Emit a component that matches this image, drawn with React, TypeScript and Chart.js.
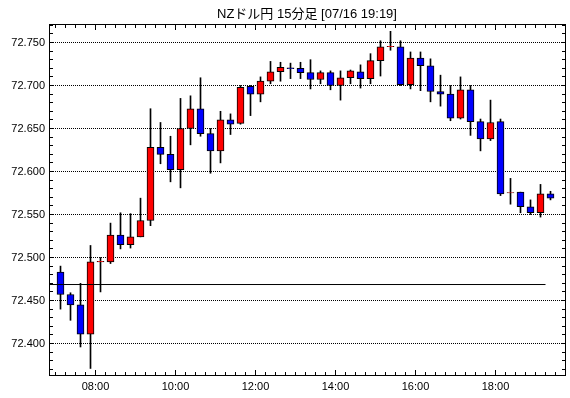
import React, { useEffect, useRef } from 'react';
import { Chart, registerables } from 'chart.js';

Chart.register(...registerables);

const TITLE = 'NZドル円 15分足 [07/16 19:19]';

const candleTimes = [
  '07:00', '07:15', '07:30', '07:45', '08:00', '08:15', '08:30', '08:45',
  '09:00', '09:15', '09:30', '09:45', '10:00', '10:15', '10:30', '10:45',
  '11:00', '11:15', '11:30', '11:45', '12:00', '12:15', '12:30', '12:45',
  '13:00', '13:15', '13:30', '13:45', '14:00', '14:15', '14:30', '14:45',
  '15:00', '15:15', '15:30', '15:45', '16:00', '16:15', '16:30', '16:45',
  '17:00', '17:15', '17:30', '17:45', '18:00', '18:15', '18:30', '18:45',
  '19:00', '19:15',
];

const opens = [
  72.483, 72.457, 72.445, 72.411, 72.495, 72.495, 72.526, 72.515,
  72.524, 72.543, 72.628, 72.620, 72.602, 72.650, 72.673, 72.644,
  72.624, 72.660, 72.656, 72.699, 72.690, 72.705, 72.716, 72.7205,
  72.720, 72.715, 72.707, 72.715, 72.700, 72.709, 72.716, 72.708,
  72.729, 72.745, 72.745, 72.701, 72.732, 72.723, 72.693, 72.690,
  72.662, 72.695, 72.658, 72.638, 72.658, 72.575, 72.576, 72.559,
  72.552, 72.574,
];

const highs = [
  72.490, 72.459, 72.470, 72.514, 72.500, 72.540, 72.552, 72.551,
  72.569, 72.673, 72.657, 72.641, 72.685, 72.688, 72.709, 72.650,
  72.670, 72.667, 72.700, 72.700, 72.710, 72.728, 72.727, 72.726,
  72.727, 72.730, 72.717, 72.717, 72.717, 72.718, 72.724, 72.737,
  72.752, 72.763, 72.752, 72.739, 72.739, 72.731, 72.712, 72.700,
  72.710, 72.700, 72.661, 72.683, 72.661, 72.592, 72.576, 72.567,
  72.585, 72.577,
];

const lows = [
  72.440, 72.427, 72.396, 72.371, 72.460, 72.493, 72.510, 72.511,
  72.524, 72.537, 72.609, 72.588, 72.581, 72.631, 72.641, 72.598,
  72.610, 72.643, 72.655, 72.665, 72.681, 72.702, 72.705, 72.708,
  72.708, 72.696, 72.702, 72.695, 72.683, 72.702, 72.697, 72.702,
  72.711, 72.741, 72.700, 72.696, 72.694, 72.681, 72.676, 72.659,
  72.661, 72.642, 72.624, 72.636, 72.572, 72.562, 72.552, 72.550,
  72.547, 72.567,
];

const closes = [
  72.457, 72.445, 72.411, 72.495, 72.4955, 72.526, 72.515, 72.524,
  72.543, 72.628, 72.620, 72.602, 72.650, 72.673, 72.644, 72.624,
  72.660, 72.655, 72.698, 72.690, 72.705, 72.716, 72.721, 72.7195,
  72.715, 72.707, 72.715, 72.700, 72.709, 72.717, 72.708, 72.729,
  72.745, 72.7455, 72.701, 72.732, 72.723, 72.693, 72.690, 72.662,
  72.695, 72.658, 72.638, 72.657, 72.574, 72.5755, 72.559, 72.552,
  72.574, 72.569,
];

const refLevel = 72.4686;
const refLineEnd = '19:15';

const yTickValues = [72.4, 72.45, 72.5, 72.55, 72.6, 72.65, 72.7, 72.75];
const xTickLabels = ['08:00', '10:00', '12:00', '14:00', '16:00', '18:00'];

const X_MIN = 410.25;
const X_MAX = 1184.25;
const Y_MIN = 72.3634;
const Y_MAX = 72.7715;
const CANDLE_MINUTES = 15;

const toMin = (s: string) => {
  const [h, m] = s.split(':').map(Number);
  return h * 60 + m;
};

const FONT_FAMILY = "'Liberation Sans', 'Noto Sans CJK JP', sans-serif";

export default function App() {
  const canvasRef = useRef<HTMLCanvasElement | null>(null);

  useEffect(() => {
    const canvas = canvasRef.current;
    if (!canvas) return;

    const centers = candleTimes.map((t) => toMin(t) + CANDLE_MINUTES / 2);
    const wickData = centers.map((x, i) => ({ x, y: [lows[i], highs[i]] }));
    const bodyData = centers.map((x, i) => ({ x, y: [opens[i], closes[i]] }));
    const bodyColors = opens.map((o, i) => (closes[i] >= o ? '#ff0000' : '#0000ff'));

    const decor = {
      id: 'decor',
      afterDraw(chart: any) {
        const { ctx, chartArea: a, scales } = chart;
        const xs = scales.x;
        const ys = scales.y;
        ctx.save();
        ctx.strokeStyle = '#000';
        ctx.lineWidth = 1;
        ctx.beginPath();
        for (let t = Math.ceil(xs.min / 15) * 15; t <= xs.max; t += 15) {
          const px = Math.round(xs.getPixelForValue(t) - 0.5) + 0.5;
          const len = t % 120 === 0 ? 5 : 3;
          ctx.moveTo(px, a.bottom);
          ctx.lineTo(px, a.bottom - len);
          ctx.moveTo(px, a.top);
          ctx.lineTo(px, a.top + len + 1);
        }
        for (let k = Math.ceil(ys.min * 100); k <= Math.floor(ys.max * 100); k++) {
          const py = Math.round(ys.getPixelForValue(k / 100) - 0.5) + 0.5;
          ctx.moveTo(a.left, py);
          ctx.lineTo(a.left + 4, py);
          ctx.moveTo(a.right, py);
          ctx.lineTo(a.right - 3, py);
        }
        ctx.stroke();
        ctx.strokeRect(a.left + 0.5, a.top + 0.5, a.right - a.left, a.bottom - a.top);
        ctx.fillStyle = '#000';
        ctx.font = `13px ${FONT_FAMILY}`;
        ctx.textAlign = 'center';
        ctx.textBaseline = 'middle';
        ctx.fillText(TITLE, (a.left + a.right) / 2, 14);
        ctx.restore();
      },
    };

    const chart = new Chart(canvas, {
      type: 'bar',
      data: {
        datasets: [
          {
            type: 'line',
            data: [
              { x: X_MIN, y: refLevel },
              { x: toMin(refLineEnd), y: refLevel },
            ],
            borderColor: '#000',
            borderWidth: 1,
            pointRadius: 0,
            order: 0,
          } as any,
          {
            data: bodyData as any,
            backgroundColor: bodyColors,
            borderColor: '#000',
            borderWidth: 1,
            borderSkipped: false,
            barThickness: 7,
            grouped: false,
            order: 1,
          } as any,
          {
            data: wickData as any,
            backgroundColor: '#000',
            borderWidth: 0,
            barThickness: 1,
            grouped: false,
            order: 2,
          } as any,
        ],
      },
      options: {
        responsive: false,
        animation: false,
        events: [],
        layout: { padding: { top: 24, right: 5, left: 0, bottom: 0 } },
        plugins: {
          legend: { display: false },
          tooltip: { enabled: false },
          title: { display: false },
        },
        scales: {
          x: {
            type: 'linear',
            min: X_MIN,
            max: X_MAX,
            offset: false,
            grid: { display: false, drawTicks: false },
            border: { display: false },
            afterBuildTicks: (scale: any) => {
              scale.ticks = xTickLabels.map((l) => ({ value: toMin(l) }));
            },
            afterFit: (scale: any) => {
              scale.height = 23;
            },
            ticks: {
              autoSkip: false,
              maxRotation: 0,
              padding: 5,
              color: '#000',
              font: { family: FONT_FAMILY, size: 11 },
              callback: (_v: any, i: number) => xTickLabels[i],
            },
          },
          y: {
            type: 'linear',
            min: Y_MIN,
            max: Y_MAX,
            grid: { color: '#000', lineWidth: 1, drawTicks: false },
            border: { display: false, dash: [1, 1] },
            afterBuildTicks: (scale: any) => {
              scale.ticks = yTickValues.map((v) => ({ value: v }));
            },
            afterFit: (scale: any) => {
              scale.width = 49;
            },
            ticks: {
              padding: 4,
              color: '#000',
              font: { family: FONT_FAMILY, size: 11 },
              callback: (v: any) => Number(v).toFixed(3),
            },
          },
        },
      },
      plugins: [decor],
    });

    return () => chart.destroy();
  }, []);

  return (
    <div
      style={{
        position: 'fixed',
        left: 0,
        top: 0,
        width: 570,
        height: 398,
        background: '#fff',
      }}
    >
      <canvas ref={canvasRef} width={570} height={398} style={{ display: 'block' }} />
    </div>
  );
}
